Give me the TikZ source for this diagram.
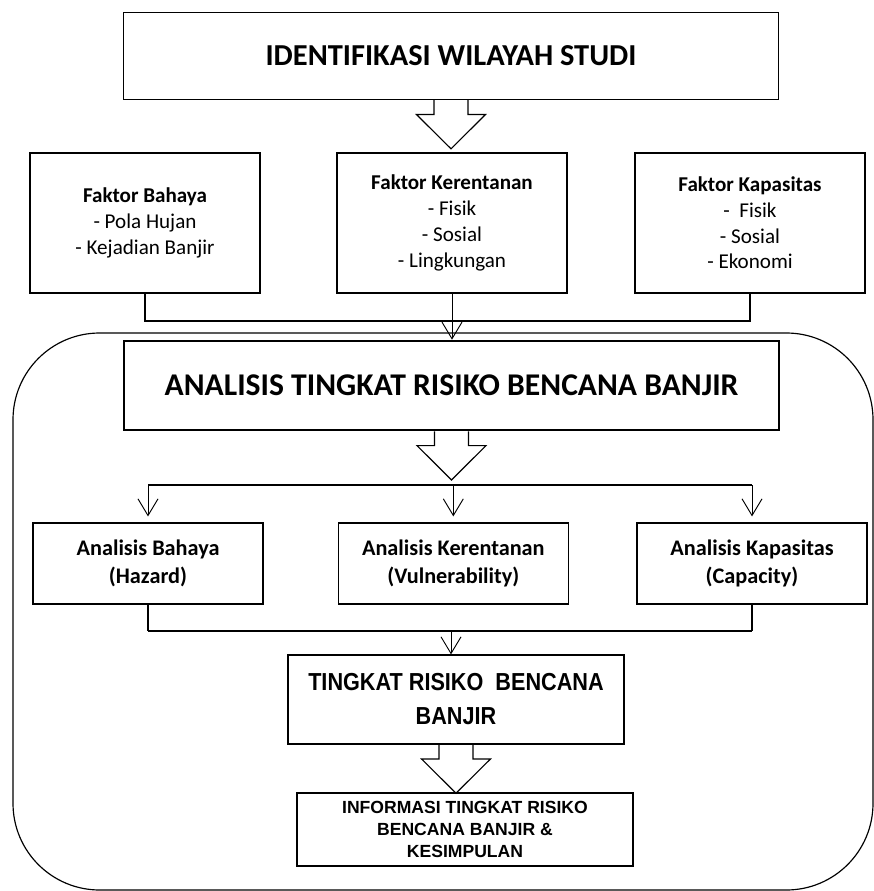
\documentclass[tikz,border=0pt]{standalone}
\usepackage{fontspec}
\setmainfont{Carlito}
\newfontfamily\arialfont{Liberation Sans}
\newfontfamily\arialnarrow[FakeStretch=0.88]{Liberation Sans}
\usepackage{tikz}
\usetikzlibrary{arrows.meta, positioning, calc}
\tikzset{
  titlebox/.style={rectangle, draw=black, minimum width=19.65cm,
    minimum height=2.6cm, line width=1.4pt,
    font=\fontsize{26}{30}\selectfont\bfseries},
  mainbox/.style={rectangle, draw=black, minimum width=19.65cm,
    minimum height=2.67cm, line width=2.2pt,
    font=\fontsize{27}{31}\selectfont\bfseries},
  faktorbox/.style={rectangle, draw=black, minimum width=6.9cm,
    minimum height=4.2cm, align=center, line width=1pt,
    font=\fontsize{18}{22}\selectfont},
  analisbox/.style={rectangle, draw=black, minimum width=6.9cm,
    minimum height=2.43cm, align=center, line width=1pt,
    font=\fontsize{19}{24}\selectfont\bfseries},
  resultbox/.style={rectangle, draw=black, minimum width=10.08cm,
    minimum height=2.67cm, align=center, line width=1pt,
    font=\arialnarrow\fontsize{21}{29}\selectfont\bfseries},
  infobox/.style={rectangle, draw=black, minimum width=10.08cm,
    minimum height=2.19cm, align=center, line width=1pt,
    font=\arialfont\fontsize{15}{19}\selectfont\bfseries},
  arrow/.style={-{Straight Barb[length=0.5cm, width=0.6cm]}, line width=0.8pt},
  line/.style={line width=1pt},
  barline/.style={line width=1.6pt},
  hollow arrow/.pic={
    \draw[line width=1pt] (-0.51,0) -- (-0.51,-0.43) -- (-1.035,-0.43)
      -- (0,-1.46) -- (1.035,-0.43) -- (0.51,-0.43) -- (0.51,0);
  }
}

\begin{document}
\begin{tikzpicture}
  \useasboundingbox (0,0) rectangle (26.22,-26.73);

  % Study area
  \node[titlebox] (ident) at (13.53,-1.68) {IDENTIFIKASI WILAYAH STUDI};
  \pic at (ident.south) {hollow arrow};

  % Factor boxes
  \node[faktorbox] (fbahaya) at (4.35,-6.69)
    {\textbf{Faktor Bahaya}\\- Pola Hujan\\- Kejadian Banjir};
  \node[faktorbox] (fkerentanan) at (13.56,-6.69)
    {\textbf{Faktor Kerentanan}\\- Fisik\\- Sosial\\- Lingkungan};
  \node[faktorbox] (fkapasitas) at (22.5,-6.69)
    {\textbf{Faktor Kapasitas}\\-\ \ Fisik\\- Sosial\\- Ekonomi};

  \coordinate (joinF) at (13.53,-9.63);
  \draw[line] (fbahaya.south) -- (fbahaya.south |- joinF)
    -- (fkapasitas.south |- joinF) -- (fkapasitas.south);

  % Analysis frame
  \draw[line width=1pt, rounded corners=2.6cm] (0.39,-9.99) rectangle (26.19,-26.7);

  \node[mainbox] (analisis) at (13.545,-11.565)
    {ANALISIS TINGKAT RISIKO BENCANA BANJIR};
  \draw[arrow] (fkerentanan.south) -- (fkerentanan.south |- analisis.north);
  \pic at (analisis.south) {hollow arrow};

  % Analysis boxes
  \node[analisbox] (abahaya) at (4.44,-16.905) {Analisis Bahaya\\(Hazard)};
  \node[analisbox] (akerentanan) at (13.6,-16.905) {Analisis Kerentanan\\(Vulnerability)};
  \node[analisbox] (akapasitas) at (22.56,-16.905) {Analisis Kapasitas\\(Capacity)};

  \coordinate (splitA) at (13.53,-14.55);
  \draw[barline] (abahaya.north |- splitA) -- (akapasitas.north |- splitA);
  \foreach \n in {abahaya, akerentanan, akapasitas}
    \draw[arrow, shorten >=0.18cm] (\n.north |- splitA) -- (\n.north);

  \coordinate (joinA) at (13.53,-18.93);
  \draw[line] (abahaya.south) -- (abahaya.south |- joinA);
  \draw[line] (akapasitas.south) -- (akapasitas.south |- joinA);
  \draw[barline] (abahaya.south |- joinA) -- (akapasitas.south |- joinA);

  % Result
  \node[resultbox] (tingkat) at (13.68,-20.985)
    {TINGKAT RISIKO\ \ BENCANA\\BANJIR};
  \draw[arrow] (joinA) -- (joinA |- tingkat.north);
  \pic at (tingkat.south) {hollow arrow};

  \node[infobox] (informasi) at (13.95,-24.885)
    {INFORMASI TINGKAT RISIKO\\BENCANA BANJIR \&\\KESIMPULAN};
\end{tikzpicture}
\end{document}
